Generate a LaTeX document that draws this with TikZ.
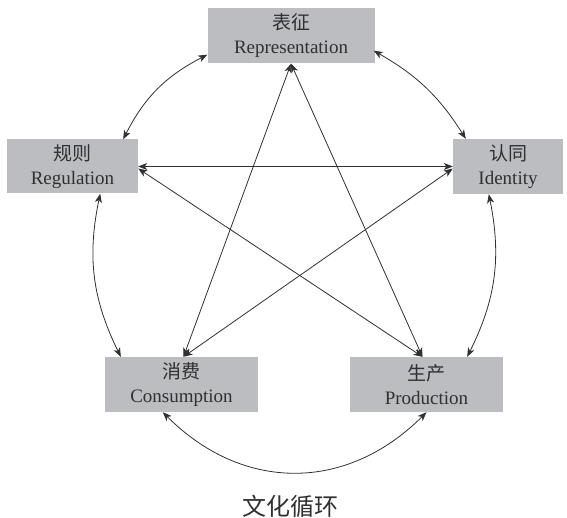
\documentclass[tikz,border=0pt]{standalone}
\usepackage{fontspec}
\setmainfont{Liberation Serif}
\newfontfamily\cjk{Noto Sans CJK SC}
\usetikzlibrary{arrows.meta,calc}
\definecolor{boxgray}{HTML}{BCBDC0}
\definecolor{ink}{HTML}{303030}
\tikzset{
  box/.style={fill=boxgray, draw=none, inner sep=0pt, align=center, text=ink,
    font=\fontsize{19}{24}\selectfont, minimum height=55pt},
  arr/.style={draw=ink, line width=0.8pt, {Stealth[length=9pt,width=7pt,inset=2.5pt]}-{Stealth[length=9pt,width=7pt,inset=2.5pt]}},
}
\begin{document}
\begin{tikzpicture}[x=1pt,y=-1pt]
\useasboundingbox (0,0) rectangle (567,518);
\node[box, minimum width=167pt] (rep) at (291,36) {{\cjk 表征}\\Representation};
\node[box, minimum width=131pt, minimum height=54pt] (reg) at (72.5,166.5) {{\cjk 规则}\\Regulation};
\node[box, minimum width=110pt] (id) at (508,166.5) {{\cjk 认同}\\Identity};
\node[box, minimum width=153pt] (cons) at (181.5,384.5) {{\cjk 消费}\\Consumption};
\node[box, minimum width=153pt] (prod) at (426.5,384.5) {{\cjk 生产}\\Production};
\node[text=ink, font=\cjk\fontsize{24}{28}\selectfont] (title) at (290,506) {文化循环};
% star
\draw[arr] (rep.south) -- ($(cons.north)+(2,0)$);
\draw[arr] (rep.south) -- ($(prod.north)+(-4,0)$);
\draw[arr] (reg.east) -- (id.west);
\draw[arr] ($(reg.east)+(0,2)$) -- ($(prod.north)+(-4,0)$);
\draw[arr] ($(id.west)+(0,2)$) -- ($(cons.north)+(2,0)$);
% ring
\draw[arr] ($(reg.north east)+(-15,0)$) to[bend left=18] ($(rep.south west)+(0,-9)$);
\draw[arr] ($(rep.south east)+(-1,-13)$) to[bend left=14] ($(id.north west)+(13,0)$);
\draw[arr] ($(id.south west)+(36,0)$) to[bend left=19] ($(prod.north east)+(-36,0)$);
\draw[arr] ($(prod.south)+(0,0)$) to[bend left=45, looseness=1.1] ($(cons.south west)+(58,0)$);
\draw[arr] ($(cons.north west)+(16,0)$) to[bend left=19] ($(reg.south east)+(-38,0)$);
\end{tikzpicture}
\end{document}
